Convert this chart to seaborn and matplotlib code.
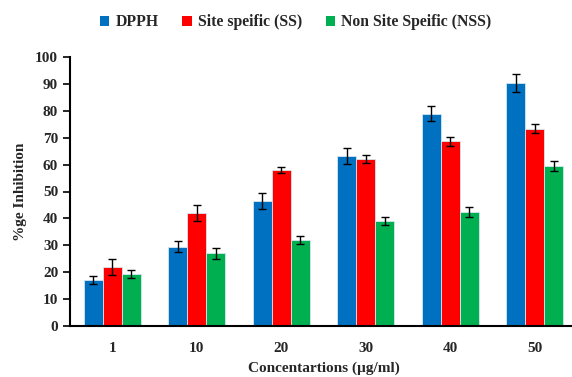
import numpy as np
import pandas as pd
import matplotlib
matplotlib.use("Agg")
import matplotlib.pyplot as plt
import seaborn as sns
from matplotlib.patches import Patch

categories = ["1", "10", "20", "30", "40", "50"]
series_names = ["DPPH", "Site speific (SS)", "Non Site Speific (NSS)"]
dpph = [17.0, 29.5, 46.5, 63.3, 78.9, 90.3]
ss = [22.0, 42.0, 58.0, 62.0, 68.6, 73.4]
nss = [19.4, 27.0, 31.8, 39.0, 42.3, 59.5]
dpph_err = [1.5, 2.0, 3.0, 3.0, 2.7, 3.4]
ss_err = [2.9, 3.0, 1.2, 1.4, 1.7, 1.6]
nss_err = [1.5, 2.0, 1.5, 1.4, 1.9, 1.9]
colors = ["#0070C0", "#FF0000", "#00B050"]

rows = []
for name, vals, errs in zip(series_names, [dpph, ss, nss], [dpph_err, ss_err, nss_err]):
    for c, v, e in zip(categories, vals, errs):
        rows.append({"conc": c, "series": name, "value": v, "err": e})
df = pd.DataFrame(rows)

sns.set_theme(style="white")
plt.rcParams["font.family"] = ["Liberation Serif", "DejaVu Serif"]
plt.rcParams["font.weight"] = "bold"

fig = plt.figure(figsize=(5.72, 3.77), dpi=100)
ax = fig.add_axes([70/572, 1-326/377, (577-70)/572, (326-57)/377])

sns.barplot(data=df, x="conc", y="value", hue="series", order=categories,
            hue_order=series_names, palette=colors, width=0.675,
            errorbar=None, saturation=1, edgecolor="#d8e6f0", linewidth=0.6,
            legend=False, ax=ax)

# error bars from bar patches
for s_i, name in enumerate(series_names):
    sub = df[df.series == name].set_index("conc").loc[categories]
    patches = ax.patches[s_i*len(categories):(s_i+1)*len(categories)]
    xs = [p.get_x() + p.get_width()/2 for p in patches]
    ax.errorbar(xs, sub["value"].values, yerr=sub["err"].values, fmt="none",
                ecolor="black", elinewidth=1.0, capsize=3, capthick=1.0, zorder=5)

ax.set_ylim(0, 100)
ax.set_xlim(-0.5, 5.5)
ax.set_yticks(np.arange(0, 101, 10))
ax.set_xticks(range(len(categories)))
ax.set_xticklabels(categories)
ax.set_xticks(np.arange(-0.5, 5.6, 1), minor=True)
ax.tick_params(axis="x", which="major", length=0, labelsize=11, pad=11.5)
ax.tick_params(axis="x", which="minor", length=5, width=1.2, direction="out", color="black")
ax.tick_params(axis="y", length=5, width=1.2, direction="out", color="black", labelsize=11, left=True)
for lab in ax.get_xticklabels() + ax.get_yticklabels():
    lab.set_fontweight("bold")

for sp in ["top", "right"]:
    ax.spines[sp].set_visible(False)
for sp in ["left", "bottom"]:
    ax.spines[sp].set_color("black")
    ax.spines[sp].set_linewidth(1.5)

ax.set_xlabel("Concentartions (µg/ml)", fontsize=11, fontweight="bold", labelpad=4.5)
ax.set_ylabel("%ge Inhibition", fontsize=11, fontweight="bold", labelpad=6)

handles = [Patch(facecolor=c, edgecolor="none") for c in colors]
fig.legend(handles, series_names, loc="upper center", bbox_to_anchor=(0.517, 1.0),
           ncol=3, frameon=False, prop={"weight": "bold", "size": 11.3},
           handlelength=0.6, handleheight=0.6, handletextpad=0.4, columnspacing=1.5)

fig.savefig("out.png", dpi=100)
